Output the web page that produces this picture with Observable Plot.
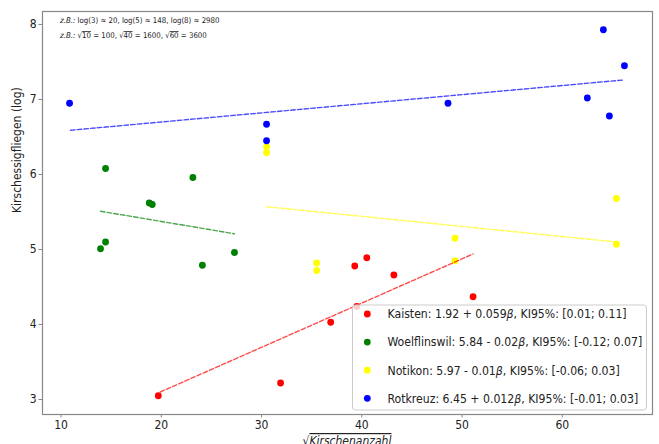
<!DOCTYPE html>
<html>
<head>
<meta charset="utf-8">
<script src="https://cdn.jsdelivr.net/npm/d3@7"></script>
<script src="https://cdn.jsdelivr.net/npm/@observablehq/plot@0.6"></script>
<style>
  html, body { margin: 0; padding: 0; background: #fff; }
  #chart svg { display: block; }
</style>
</head>
<body>
<div id="chart"></div>
<script>
// ---- data ----
const xTicks = [10, 20, 30, 40, 50, 60];
const yTicks = [3, 4, 5, 6, 7, 8];

const seriesNames = ["Kaisten", "Woelflinswil", "Notikon", "Rotkreuz"];
const seriesColors = ["#ff0000", "#008000", "#ffff00", "#0000ff"];
const legendLabels = [
  ["Kaisten: 1.92 + 0.059", "β", ", KI95%: [0.01; 0.11]"],
  ["Woelflinswil: 5.84 - 0.02", "β", ", KI95%: [-0.12; 0.07]"],
  ["Notikon: 5.97 - 0.01", "β", ", KI95%: [-0.06; 0.03]"],
  ["Rotkreuz: 6.45 + 0.012", "β", ", KI95%: [-0.01; 0.03]"]
];

const kaistenX = [19.7, 31.9, 36.9, 39.3, 39.5, 40.5, 43.2, 51.1];
const kaistenY = [3.05, 3.22, 4.03, 4.78, 4.24, 4.89, 4.66, 4.37];
const woelflinswilX = [13.94, 14.44, 14.44, 18.8, 19.1, 23.15, 24.1, 27.3];
const woelflinswilY = [5.01, 5.10, 6.08, 5.62, 5.60, 5.96, 4.79, 4.96];
const notikonX = [30.5, 30.5, 35.5, 35.5, 49.3, 49.3, 65.4, 65.4];
const notikonY = [6.37, 6.29, 4.82, 4.72, 5.15, 4.85, 5.68, 5.07];
const rotkreuzX = [10.85, 30.5, 30.5, 48.6, 62.5, 64.1, 64.7, 66.2];
const rotkreuzY = [6.95, 6.67, 6.45, 6.95, 7.02, 7.93, 6.78, 7.45];

// fitted lines (end points)
const kaistenFitX = [19.9, 51.1];
const kaistenFitY = [3.10, 4.94];
const woelflinswilFitX = [13.94, 27.3];
const woelflinswilFitY = [5.51, 5.21];
const notikonFitX = [30.5, 65.4];
const notikonFitY = [5.57, 5.10];
const rotkreuzFitX = [10.95, 66.1];
const rotkreuzFitY = [6.59, 7.26];

const xLabel = "Kirschenanzahl";
const yLabel = "Kirschessigfliegen (log)";
const note1 = [["z.B.:", "i"], [" log(3) ≈ 20, log(5) ≈ 148, log(8) ≈ 2980", ""]];
const note2 = [["z.B.:", "i"], [" √", ""], ["10", "o"], [" = 100, √", ""], ["40", "o"], [" = 1600, √", ""], ["60", "o"], [" = 3600", ""]];

// ---- build tables ----
const xs = [kaistenX, woelflinswilX, notikonX, rotkreuzX];
const ys = [kaistenY, woelflinswilY, notikonY, rotkreuzY];
const fx = [kaistenFitX, woelflinswilFitX, notikonFitX, rotkreuzFitX];
const fy = [kaistenFitY, woelflinswilFitY, notikonFitY, rotkreuzFitY];
const points = [];
const fits = [];
seriesNames.forEach((s, i) => {
  xs[i].forEach((x, j) => points.push({s, x, y: ys[i][j]}));
  fx[i].forEach((x, j) => fits.push({s, x, y: fy[i][j]}));
});
const colorScale = {domain: seriesNames, range: seriesColors};

const font = "DejaVu Sans Condensed, DejaVu Sans, sans-serif";

const chart = Plot.plot({
  width: 659,
  height: 444,
  marginLeft: 42,
  marginRight: 7,
  marginTop: 11,
  marginBottom: 30,
  style: {fontFamily: font, fontSize: "12px", background: "#fff", color: "#222"},
  x: {domain: [8.15, 69.0]},
  y: {domain: [2.8, 8.173]},
  color: colorScale,
  marks: [
    Plot.dot(points, {x: "x", y: "y", fill: "s", r: 3.4}),
    Plot.line(fits, {x: "x", y: "y", z: "s", stroke: "s", strokeWidth: 1.4, strokeOpacity: 0.7, strokeDasharray: "4.5,2.2"}),
    Plot.frame({stroke: "#888", strokeWidth: 1.2}),
    Plot.axisX({ticks: xTicks, tickFormat: d => String(d), tickSize: 3.5, tickPadding: 2.5, fontSize: 12, stroke: "#888", label: null}),
    Plot.axisY({ticks: yTicks, tickFormat: d => String(d), tickSize: 3.5, tickPadding: 2.5, fontSize: 12, stroke: "#888", label: null}),
    Plot.text([yLabel], {frameAnchor: "left", dx: -25, rotate: -90, fontSize: 12, fill: "#222"})
  ]
});
document.getElementById("chart").appendChild(chart);

const svg = d3.select(chart);

// annotations
function addRich(parts, x, y, size) {
  const t = svg.append("text").attr("x", x).attr("y", y).attr("text-anchor", "start")
    .attr("font-size", size).attr("font-family", font).attr("fill", "#222");
  parts.forEach(([txt, st]) => {
    const sp = t.append("tspan").text(txt);
    if (st.includes("i")) sp.attr("font-style", "italic");
    if (st.includes("o")) sp.style("text-decoration", "overline");
  });
  return t;
}
addRich(note1, 60, 23, 7.8);
addRich(note2, 60, 38, 7.8);

// x label with sqrt overline
const xl = svg.append("text").attr("x", 347).attr("y", 445).attr("text-anchor", "middle")
  .attr("font-size", 12).attr("font-family", font).attr("fill", "#222");
xl.append("tspan").text("√");
xl.append("tspan").text(xLabel).attr("font-style", "italic").style("text-decoration", "overline");

// legend
const lg = svg.append("g");
lg.append("rect").attr("x", 352.5).attr("y", 305).attr("width", 294).attr("height", 105)
  .attr("rx", 3).attr("fill", "#fff").attr("fill-opacity", 0.8).attr("stroke", "#ccc");
legendLabels.forEach((parts, i) => {
  const cy = 314 + i * 28.1;
  lg.append("circle").attr("cx", 367.3).attr("cy", cy).attr("r", 3.4).attr("fill", seriesColors[i]);
  const t = lg.append("text").attr("x", 387.5).attr("y", cy + 4.3).attr("text-anchor", "start")
    .attr("font-size", 12.15).attr("font-family", font).attr("fill", "#222");
  t.append("tspan").text(parts[0]);
  t.append("tspan").text(parts[1]).attr("font-style", "italic");
  t.append("tspan").text(parts[2]);
});
</script>
</body>
</html>
